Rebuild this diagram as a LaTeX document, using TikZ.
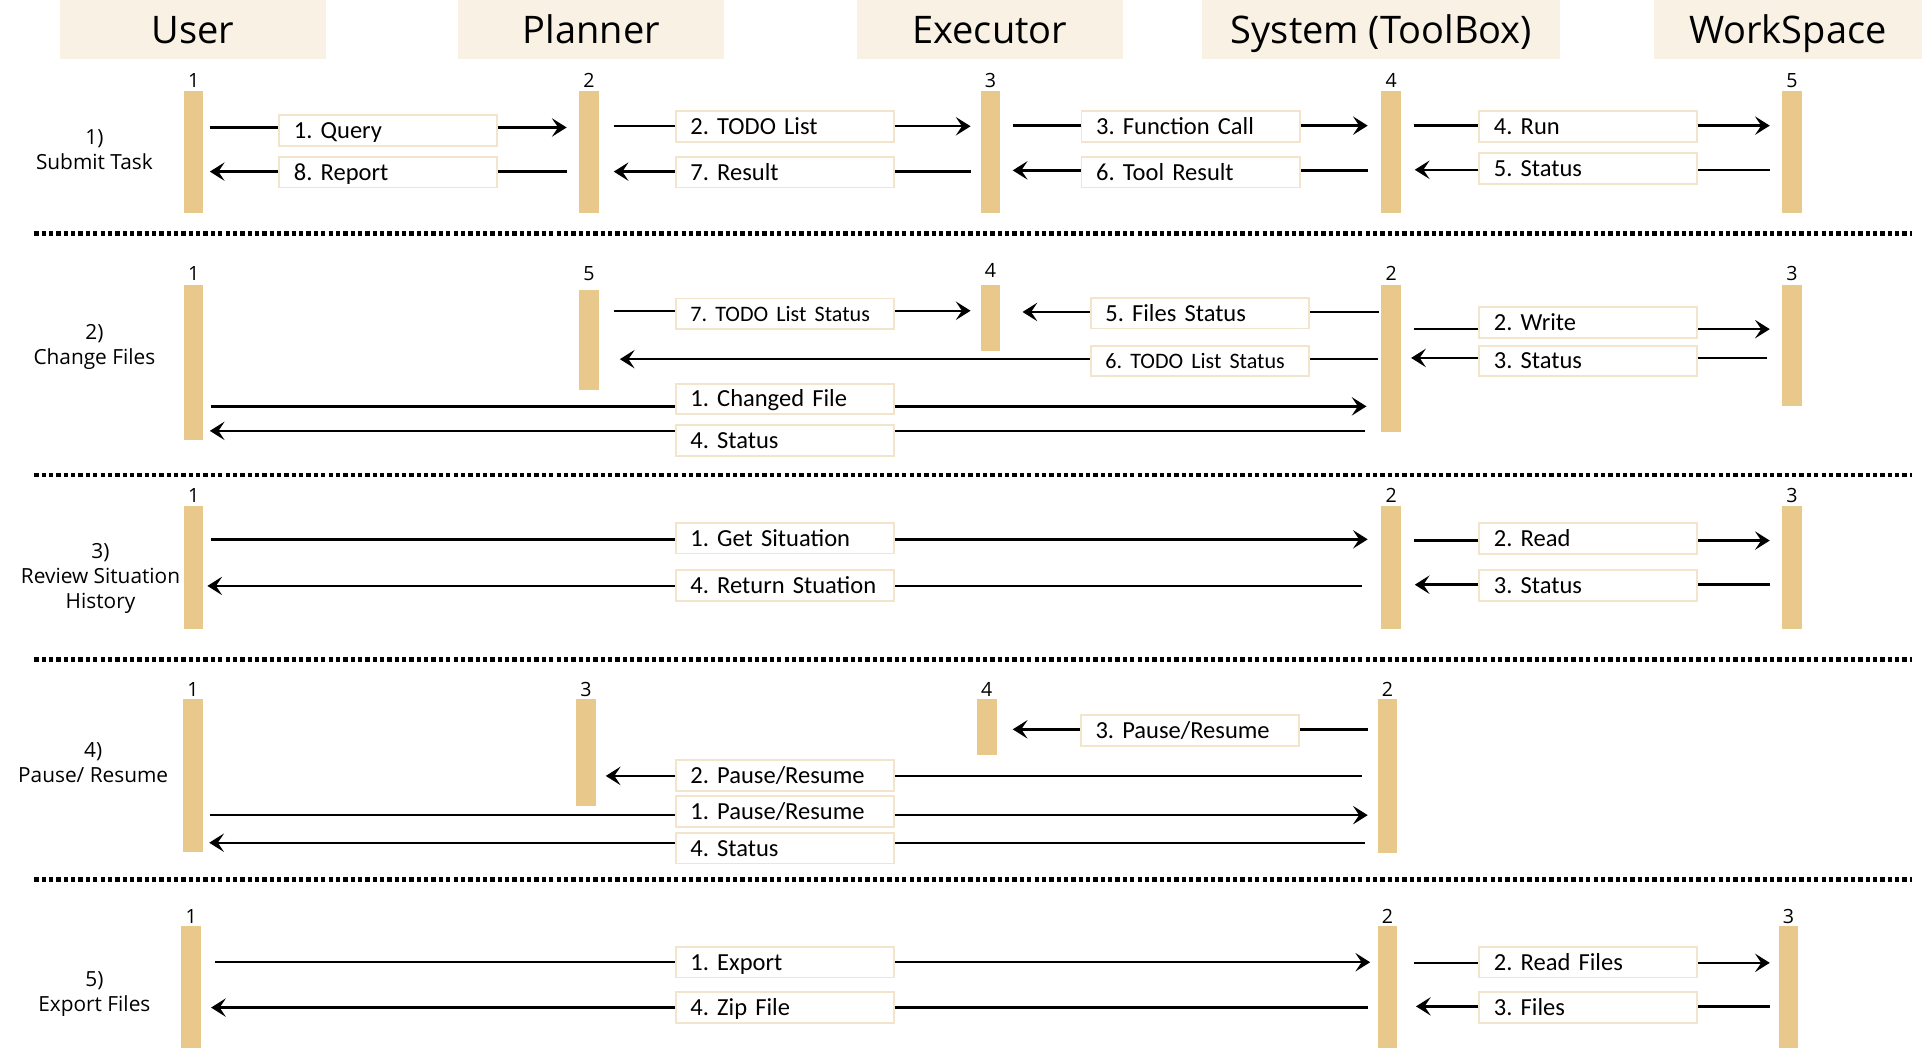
\documentclass[tikz,border=0pt]{standalone}
\usepackage{fontspec}
\setmainfont{Carlito}
\newfontfamily\hfont{Open Sans}
\usetikzlibrary{arrows.meta}
\definecolor{hdr}{HTML}{F8F1E4}
\definecolor{barc}{HTML}{E8C98B}
\definecolor{lblb}{HTML}{F2E5CC}
\tikzset{
  hg/.store in=\myhg, tg/.store in=\mytg,
  hdrbox/.style={fill=hdr, minimum width=#1, minimum height=48pt, inner sep=0pt, anchor=north,
    font=\hfont\fontsize{31}{36}\selectfont, text height=22pt, text depth=0pt},
  lifebar/.style={fill=barc, minimum width=16pt, minimum height=#1, inner sep=0pt, anchor=north},
  num/.style={font=\hfont\fontsize{16}{18}\selectfont, inner sep=0pt, anchor=base},
  sec/.style={font=\hfont\fontsize{17}{20.5}\selectfont, align=center, inner sep=0pt},
  lbl/.style={draw=lblb, line width=1.5pt, fill=white, text width=154pt, align=left,
    inner xsep=12pt, inner ysep=0pt, minimum height=25pt, anchor=west,
    font=\fontsize{20}{24}\selectfont\frenchspacing, text height=16pt, text depth=3pt},
  ln/.style={line width=2pt},
  arr/.style={line width=2pt, -{Stealth[length=12pt,width=15pt,inset=5pt]}},
  sepline/.style={line width=4pt, dash pattern=on 3.5pt off 2.5pt},
}
\newcommand\smalllbl{\fontsize{18}{22}\selectfont}
% rightward message: [opts]{name}{src}{dst}{line y}{box left}{box y}{text}
\newcommand\msgR[8][]{%
  \begin{scope}[hg=10,tg=10,#1]
  \node[lbl] (#2) at (#6,#7) {\mbox{#8}};
  \coordinate (#2-t) at ([xshift=\mytg pt]#3.east |- 0,#5);
  \coordinate (#2-h) at ([xshift=-\myhg pt]#4.west |- 0,#5);
  \draw[ln] (#2-t) -- (#2.west |- #2-t);
  \draw[arr] (#2.east |- #2-t) -- (#2-h);
  \end{scope}}
% leftward message
\newcommand\msgL[8][]{%
  \begin{scope}[hg=10,tg=10,#1]
  \node[lbl] (#2) at (#6,#7) {\mbox{#8}};
  \coordinate (#2-t) at ([xshift=-\mytg pt]#3.west |- 0,#5);
  \coordinate (#2-h) at ([xshift=\myhg pt]#4.east |- 0,#5);
  \draw[ln] (#2-t) -- (#2.east |- #2-t);
  \draw[arr] (#2.west |- #2-t) -- (#2-h);
  \end{scope}}
\begin{document}
\begin{tikzpicture}[x=1pt,y=-1pt]
\useasboundingbox (0,0) rectangle (1568,855);
% headers
\node[hdrbox=217pt] (hU) at (157.5,0) {User};
\node[hdrbox=217pt] (hP) at (482.5,0) {Planner};
\node[hdrbox=217pt] (hE) at (807.5,0) {Executor};
\node[hdrbox=292pt] (hS) at (1127,0) {System (ToolBox)};
\node[hdrbox=219pt] (hW) at (1458.5,0) {WorkSpace};
% separators
\coordinate (q1a) at (28,190.5); \coordinate (q1b) at (1560,190.5);
\coordinate (q2a) at (28,387.5); \coordinate (q2b) at (1560,387.5);
\coordinate (q3a) at (28,538); \coordinate (q3b) at (1560,538);
\coordinate (q4a) at (28,717.5); \coordinate (q4b) at (1560,717.5);
\draw[sepline] (q1a) -- (q1b);
\draw[sepline] (q2a) -- (q2b);
\draw[sepline] (q3a) -- (q3b);
\draw[sepline] (q4a) -- (q4b);
% section labels
\node[sec] (s1) at (77,122) {1)\\Submit Task};
\node[sec] (s2) at (77,283) {2)\\Change Files};
\node[sec] (s3) at (82,472) {3)\\Review Situation\\History};
\node[sec] (s4) at (76,622) {4)\\Pause/ Resume};
\node[sec] (s5) at (77,811) {5)\\Export Files};

% ---------- section 1
\node[lifebar=99.5pt] (a1) at (158,74) {};
\node[lifebar=99.5pt] (b1) at (480.5,74) {};
\node[lifebar=99.5pt] (c1) at (808,74) {};
\node[lifebar=99.5pt] (d1) at (1135,74) {};
\node[lifebar=99.5pt] (e1) at (1462,74) {};
\node[num] (a1n) at (a1.north |- 0,71) {1};
\node[num] (b1n) at (b1.north |- 0,71) {2};
\node[num] (c1n) at (c1.north |- 0,71) {3};
\node[num] (d1n) at (d1.north |- 0,71) {4};
\node[num] (e1n) at (e1.north |- 0,71) {5};
\msgR[tg=5]{m1q}{a1}{b1}{104}{227}{106.5}{1. Query}
\msgL[hg=5]{m1r}{b1}{a1}{140}{227}{140.5}{8. Report}
\msgR[tg=12,hg=8]{m1t}{b1}{c1}{103}{550.5}{103}{2. TODO List}
\msgL[tg=8,hg=12]{m1s}{c1}{b1}{140}{550.5}{140.5}{7. Result}
\msgR[hg=11]{m1f}{c1}{d1}{102.5}{881.5}{103}{3. Function Call}
\msgL[tg=11]{m1g}{d1}{c1}{139}{881.5}{140.5}{6. Tool Result}
\msgR{m1w}{d1}{e1}{102.5}{1206}{103}{4. Run}
\msgL[hg=11]{m1x}{e1}{d1}{138.5}{1206}{137.5}{5. Status}

% ---------- section 2
\node[lifebar=127pt] (a2) at (158,232) {};
\node[lifebar=82pt] (b2) at (480.5,236) {};
\node[lifebar=54pt] (c2) at (808,232) {};
\node[lifebar=120pt] (d2) at (1135,232) {};
\node[lifebar=99pt] (e2) at (1462,232) {};
\node[num] (a2n) at (a2.north |- 0,229) {1};
\node[num] (b2n) at (b2.north |- 0,229) {5};
\node[num] (c2n) at (c2.north |- 0,226) {4};
\node[num] (d2n) at (d2.north |- 0,229) {2};
\node[num] (e2n) at (e2.north |- 0,229) {3};
\msgR[tg=12,hg=8]{m2a}{b2}{c2}{253.5}{550.5}{256}{\smalllbl 7. TODO List Status}
\msgL[tg=2,hg=18]{m2b}{d2}{c2}{254.5}{889}{255.5}{5. Files Status}
\msgL[tg=3,hg=17]{m2c}{d2}{b2}{293}{889}{294.5}{\smalllbl 6. TODO List Status}
\msgR{m2d}{d2}{e2}{268.5}{1206}{263}{2. Write}
\msgL[tg=12,hg=8]{m2e}{e2}{d2}{292}{1206}{294.5}{3. Status}
\msgR[tg=6,hg=12]{m2f}{a2}{d2}{331.5}{550.5}{325.5}{1. Changed File}
\msgL[tg=13,hg=5]{m2g}{d2}{a2}{351.5}{550.5}{359.5}{4. Status}

% ---------- section 3
\node[lifebar=100pt] (a3) at (158,413) {};
\node[lifebar=100pt] (d3) at (1135,413) {};
\node[lifebar=100pt] (e3) at (1462,413) {};
\node[num] (a3n) at (a3.north |- 0,410) {1};
\node[num] (d3n) at (d3.north |- 0,410) {2};
\node[num] (e3n) at (e3.north |- 0,410) {3};
\msgR[tg=6,hg=11]{m3a}{a3}{d3}{440}{550.5}{439}{1. Get Situation}
\msgL[tg=16,hg=3]{m3b}{d3}{a3}{478}{550.5}{477.5}{4. Return Stuation}
\msgR{m3c}{d3}{e3}{441}{1206}{439.5}{2. Read}
\msgL[hg=11]{m3d}{e3}{d3}{477}{1206}{477.5}{3. Status}

% ---------- section 4
\node[lifebar=125pt] (a4) at (157.5,570) {};
\node[lifebar=87pt] (b4) at (478,570) {};
\node[lifebar=46pt] (c4) at (805,570) {};
\node[lifebar=126pt] (d4) at (1132,570) {};
\node[num] (a4n) at (a4.north |- 0,568) {1};
\node[num] (b4n) at (b4.north |- 0,568) {3};
\node[num] (c4n) at (c4.north |- 0,568) {4};
\node[num] (d4n) at (d4.north |- 0,568) {2};
\msgL[tg=8,hg=13]{m4a}{d4}{c4}{595}{881}{596}{3. Pause/Resume}
\msgL[tg=13,hg=8]{m4b}{d4}{b4}{633}{550.5}{632.5}{2. Pause/Resume}
\msgR[tg=6,hg=8]{m4c}{a4}{d4}{665}{550.5}{662}{1. Pause/Resume}
\msgL[tg=10,hg=5]{m4d}{d4}{a4}{687.5}{550.5}{692}{4. Status}

% ---------- section 5
\node[lifebar=100pt] (a5) at (156,755) {};
\node[lifebar=100pt] (d5) at (1132,755) {};
\node[lifebar=100pt] (e5) at (1459,755) {};
\node[num] (a5n) at (a5.north |- 0,753) {1};
\node[num] (d5n) at (d5.north |- 0,753) {2};
\node[num] (e5n) at (e5.north |- 0,753) {3};
\msgR[tg=11,hg=6]{m5a}{a5}{d5}{785}{550.5}{785}{1. Export}
\msgL[tg=8,hg=8]{m5b}{d5}{a5}{822}{550.5}{822}{4. Zip File}
\msgR[tg=13,hg=7]{m5c}{d5}{e5}{785.5}{1206}{785}{2. Read Files}
\msgL[tg=7,hg=15]{m5d}{e5}{d5}{821}{1206}{822}{3. Files}
\end{tikzpicture}
\end{document}
